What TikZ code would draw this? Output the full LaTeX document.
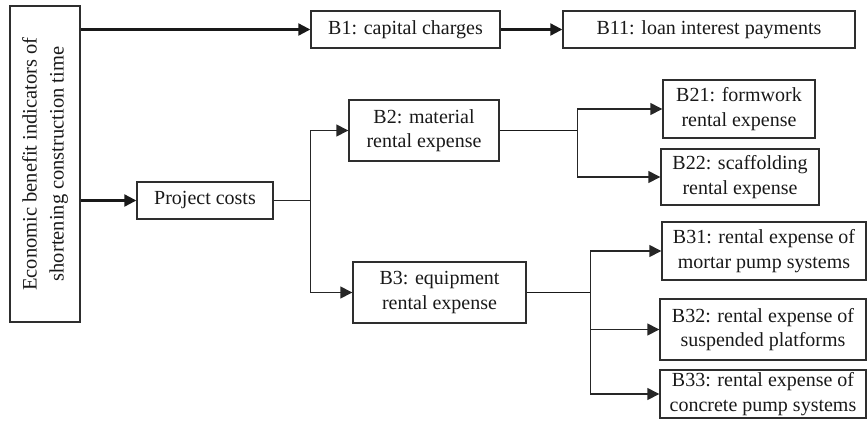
\documentclass[tikz,border=0pt]{standalone}
\usepackage{fontspec}
\setmainfont{Liberation Serif}
\usetikzlibrary{arrows.meta}
\begin{document}
\begin{tikzpicture}[x=1pt,y=-1pt,
  box/.style={draw=black!82,line width=1.4pt,inner sep=0pt,align=center,
    font=\fontsize{20}{24.5}\selectfont,text=black!90},
  thickarr/.style={draw=black!90,line width=2.2pt,-{Triangle[length=12pt,width=12pt]}},
  thinarr/.style={draw=black!85,line width=1.4pt,-{Triangle[length=12pt,width=12pt]}},
  thinline/.style={draw=black!85,line width=1.4pt},
  midline/.style={draw=black!90,line width=1.9pt}]
\useasboundingbox (0,0) rectangle (867,429);
\node[box,minimum width=316pt,minimum height=70pt,rotate=90,
  font=\fontsize{20.5}{27}\selectfont] (L) at (45,164)
  {Economic benefit indicators of\\shortening construction time};
\node[box,minimum width=189pt,minimum height=37pt] (B1) at (405.5,29.5) {B1: capital charges};
\node[box,minimum width=292pt,minimum height=37pt] (B11) at (709,29.5) {B11: loan interest payments};
\node[box,minimum width=136pt,minimum height=37pt] (PC) at (205,200.5) {Project costs};
\node[box,minimum width=150pt,minimum height=61pt] (B2) at (424,130.5) {B2: material\\rental expense};
\node[box,minimum width=173pt,minimum height=61pt] (B3) at (439.5,292.5) {B3: equipment\\rental expense};
\node[box,minimum width=152pt,minimum height=58pt] (B21) at (739,109) {B21: formwork\\rental expense};
\node[box,minimum width=158pt,minimum height=56pt] (B22) at (740,177) {B22: scaffolding\\rental expense};
\node[box,minimum width=204pt,minimum height=58pt] (B31) at (764,251) {B31: rental expense of\\mortar pump systems};
\node[box,minimum width=206pt,minimum height=61pt] (B32) at (763,329.5) {B32: rental expense of\\suspended platforms};
\node[box,minimum width=206pt,minimum height=48pt] (B33) at (763,394) {B33: rental expense of\\concrete pump systems};
% connectors
\coordinate (Lr) at (80.7,0);
\draw[thickarr] (Lr |- B1) -- (B1);
\draw[thickarr] (B1) -- (B11);
\draw[thickarr] (Lr |- PC) -- (PC);
\draw[thinline] (PC.east) -- ++(37,0) coordinate (j1);
\draw[thinarr] (j1) |- (B2.west);
\draw[thinarr] (j1) |- (B3.west);
\draw[midline] (B2.east) -- ++(78,0) coordinate (j2);
\draw[thinarr] (j2) |- (B21.west);
\draw[thinarr] (j2) |- (B22.west);
\draw[midline] (B3.east) -- ++(64,0) coordinate (j3);
\draw[thinarr] (j3) |- (B31.west);
\draw[thinarr] (j3) |- (B32.west);
\draw[thinarr] (j3) |- (B33.west);
\end{tikzpicture}
\end{document}
